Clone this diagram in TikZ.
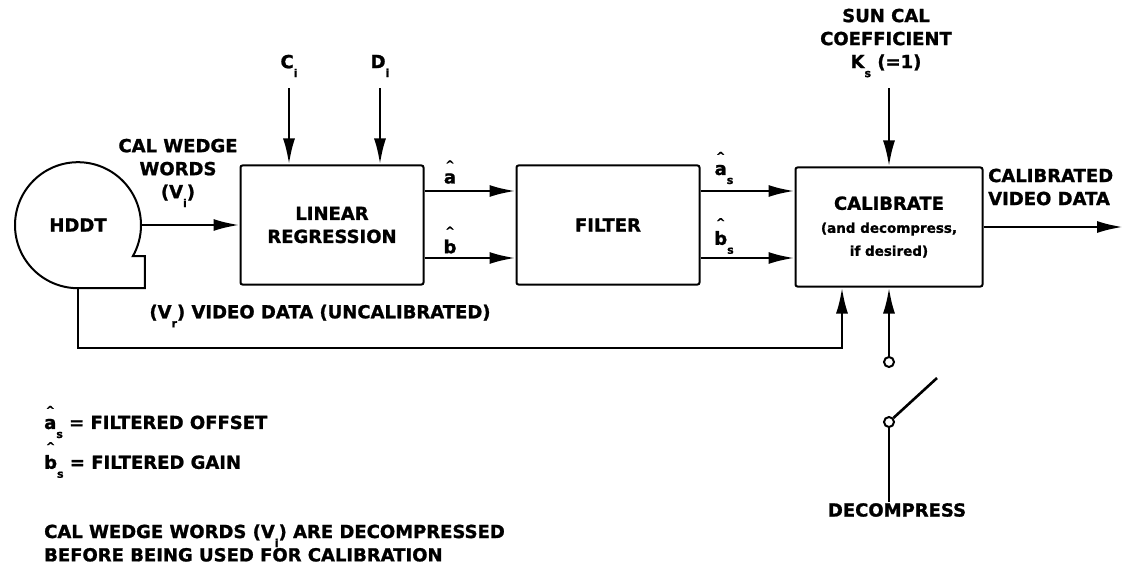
\documentclass[tikz,border=0pt]{standalone}
\usepackage{fontspec}
\setmainfont{DejaVu Sans}[BoldFeatures={FakeBold=1.2}]
\usetikzlibrary{arrows.meta,positioning}

\newcommand{\capfont}{\bfseries\fontsize{18}{23}\selectfont}
\newcommand{\lcfont}{\bfseries\fontsize{13.5}{21}\selectfont}
\newcommand{\lowidx}[1]{\raisebox{-9pt}{\fontsize{11}{11}\selectfont #1}}
\newsavebox{\hatbox}
\newcommand{\hatted}[1]{\sbox{\hatbox}{#1}\makebox[0pt][l]{\makebox[\wd\hatbox]{\raisebox{\dimexpr\ht\hatbox+5pt\relax}{\fontsize{11}{11}\selectfont\textasciicircum}}}\usebox{\hatbox}}

\begin{document}
\begin{tikzpicture}[x=1pt, y=-1pt,
  every node/.style={font=\capfont, inner sep=1pt},
  box/.style={draw, line width=2pt, rounded corners=2pt, minimum width=183pt, minimum height=119pt, align=center},
  sig/.style={line width=2.6pt, -{Latex[length=26pt,width=12pt]}},
  wire/.style={line width=2.6pt},
  port/.style={draw, circle, line width=2pt, minimum size=10pt, inner sep=0pt}
]
\useasboundingbox (0,0) rectangle (1132,564);

\node[circle, minimum size=126pt, inner sep=0pt] (hddt) at (78,225) {HDDT};
\draw[line width=2pt] (hddt.south) arc[start angle=90, end angle=389.5, radius=63] -- ++(12,0) |- (hddt.south);

\node[box] (linreg) at (332,225) {LINEAR\\REGRESSION};
\node[box] (filter) at (608,225) {FILTER};
\node[box, minimum width=187pt] (calib) at (889,227) {CALIBRATE\\{\lcfont (and decompress,}\\{\lcfont if desired)}};

\node[align=center] (wedge) at (178,173) {CAL WEDGE\\WORDS\\(V\lowidx{i})};
\node (ci) at (289,66) {C\lowidx{i}};
\node (di) at (380,66) {D\lowidx{i}};
\node[align=center] (sun) at (886,43) {SUN CAL\\COEFFICIENT\\K\lowidx{s} (=1)};

\draw[sig] (hddt) -- (linreg);
\draw[sig, shorten <=10pt] (ci) -- (ci |- linreg.north);
\draw[sig, shorten <=10pt] (di) -- (di |- linreg.north);

\node (ahat) at (450,172) {\hatted{a}};
\node (bhat) at (450,240) {\hatted{b}};
\draw[sig] ([yshift=34pt]linreg.east) -- ([yshift=34pt]filter.west);
\draw[sig] ([yshift=-33pt]linreg.east) -- ([yshift=-33pt]filter.west);

\node (as) at (724,168) {\hatted{a}\lowidx{s}};
\node (bs) at (724,236) {\hatted{b}\lowidx{s}};
\draw[sig] ([yshift=34pt]filter.east) -- (calib.west |- 0,191);
\draw[sig] ([yshift=-33pt]filter.east) -- (calib.west |- 0,258);

\draw[sig, shorten <=10pt] (sun.south -| calib.north) -- (calib.north);

\coordinate (vout) at (1123,227);
\draw[sig] (calib) -- (vout);
\node[align=left, anchor=west] (outlbl) at (987,187) {CALIBRATED\\VIDEO DATA};

\coordinate (vr) at (842,348);
\draw[sig] (hddt.south) |- (vr) -- (vr |- calib.south);
\node (vrlbl) at (320,316) {(V\lowidx{r}) VIDEO DATA (UNCALIBRATED)};

\node[port] (swtop) at (889,362) {};
\draw[sig] (swtop) -- (swtop |- calib.south);
\node[port] (pivot) at (889,422) {};
\coordinate (lever) at (937,378);
\draw[wire] (pivot) -- (lever);
\node (dec) at (897,510) {DECOMPRESS};
\draw[wire] (pivot) -- (pivot |- dec.north);

\node[anchor=west] (leg1) at (43,422) {\hatted{a}\lowidx{s} = FILTERED OFFSET};
\node[anchor=west] (leg2) at (43,460) {\hatted{b}\lowidx{s} = FILTERED GAIN};
\node[anchor=west, align=left, font=\bfseries\fontsize{18}{21}\selectfont] (note) at (43,543) {CAL WEDGE WORDS (V\lowidx{i}) ARE DECOMPRESSED\\BEFORE BEING USED FOR CALIBRATION};
\end{tikzpicture}
\end{document}
